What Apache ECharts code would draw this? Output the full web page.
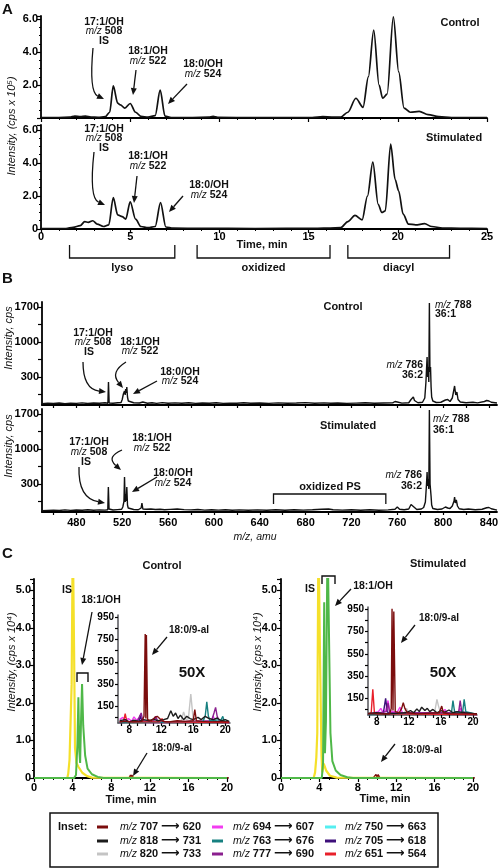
<!DOCTYPE html>
<html><head><meta charset="utf-8">
<script src="https://cdn.jsdelivr.net/npm/echarts@6/dist/echarts.min.js"></script>
<style>html,body{margin:0;padding:0;background:#fff}#c{width:500px;height:868px}</style>
</head><body><div id="c"></div>
<script>
// ================= DATA =================
// Panel A: LC chromatograms, time (min) vs intensity (cps x 10^5)
const aControl = [[0,0.03],[1.0,0.03],[1.6,0.05],[1.9,0.12],[2.2,0.08],[2.5,0.12],[2.8,0.06],[3.2,0.04],[3.6,0.08],[3.85,0.35],[4.05,1.95],[4.3,0.9],[4.45,0.8],[4.7,0.6],[5.0,0.88],[5.3,0.35],[5.6,0.1],[6.0,0.05],[6.4,0.15],[6.68,1.7],[6.95,0.12],[7.3,0.03],[8.5,0.03],[9.4,0.05],[9.65,0.1],[9.9,0.04],[12,0.02],[15.2,0.03],[15.8,0.08],[16.3,0.06],[16.8,0.05],[17.2,0.35],[17.65,1.2],[18.05,0.65],[18.35,2.5],[18.65,5.35],[18.95,2.0],[19.15,1.2],[19.4,1.45],[19.75,6.15],[20.05,2.8],[20.35,0.6],[20.7,0.35],[21.2,0.4],[21.7,0.2],[22.3,0.08],[23,0.03],[25,0.03]];
const aStim = [[0,0.03],[1.4,0.03],[1.8,0.1],[2.2,0.2],[2.45,0.45],[2.65,0.4],[2.9,0.5],[3.15,0.3],[3.5,0.15],[3.8,0.25],[4.05,1.9],[4.3,0.85],[4.55,0.75],[4.75,0.6],[5.0,1.65],[5.3,0.6],[5.6,0.15],[6.0,0.08],[6.4,0.15],[6.7,1.6],[7.0,0.12],[7.4,0.05],[9,0.04],[12,0.03],[15.5,0.04],[16.2,0.06],[16.8,0.08],[17.2,0.45],[17.6,0.82],[18.0,0.55],[18.3,2.0],[18.6,4.05],[18.9,1.5],[19.1,1.0],[19.3,1.1],[19.6,5.15],[19.85,3.0],[20.05,2.3],[20.3,0.9],[20.6,0.3],[21.0,0.25],[21.5,0.32],[21.9,0.15],[22.5,0.06],[23.5,0.04],[25,0.03]];
const aXTicks = [0,5,10,15,20,25];
const aBrackets = [['lyso',1.6,7.5],['oxidized',8.75,16.2],['diacyl',17.2,22.9]];

// Panel B: mass spectra, m/z vs intensity (cps)
const bControl = [[450,-235],[455,-225],[460,-230],[465,-220],[470,-232],[475,-222],[480,-228],[485,-218],[490,-230],[495,-220],[500,-226],[505,-215],[507.5,-225],[508,200],[508.6,-220],[512,-225],[516,-215],[519,-210],[520,-150],[521,-40],[522,20],[522.6,-60],[523,60],[523.5,-20],[524,100],[524.6,-100],[525.3,-180],[526,-200],[530,-215],[535,-220],[538,-200],[542,-225],[546,-215],[550,-228],[555,-212],[560,-225],[566,-218],[572,-226],[578,-215],[584,-228],[590,-220],[596,-225],[602,-215],[608,-228],[614,-222],[620,-226],[626,-214],[632,-226],[640,-220],[648,-228],[656,-218],[664,-225],[672,-220],[680,-212],[688,-226],[696,-218],[702,-225],[708,-219],[716,-228],[724,-222],[732,-216],[740,-226],[748,-220],[756,-218],[758,-190],[760,-200],[764,-222],[770,-215],[772,-150],[774,-100],[775,-170],[778,-215],[782,-205],[784,-120],[785,200],[786,700],[786.5,300],[787,500],[787.5,200],[788,1780],[788.5,400],[789,500],[789.5,100],[790,-100],[791,-180],[794,-210],[798,-205],[802,-160],[804,-150],[806,-190],[808,-120],[810,120],[811,-60],[812,0],[813,-150],[815,-200],[820,-215],[826,-205],[830,-218],[836,-190],[838,-170],[840,-180],[842,-205],[847,-220]];
const bStim = [[450,-235],[455,-228],[460,-222],[465,-230],[470,-218],[475,-228],[480,-220],[485,-226],[490,-215],[495,-226],[500,-218],[505,-222],[507.4,-215],[507.9,240],[508.5,-200],[509,-215],[512,-220],[516,-212],[519.5,-205],[520.5,-160],[521.5,-50],[522,440],[522.6,-60],[523,100],[523.5,-40],[524,240],[524.6,-120],[525.2,-180],[526,-200],[530,-210],[534,-215],[536.5,-180],[537.2,-80],[538,-200],[541,-205],[545,-200],[549,-210],[553,-205],[557,-215],[562,-208],[568,-200],[574,-212],[580,-218],[586,-210],[592,-222],[598,-215],[604,-222],[610,-214],[616,-225],[622,-218],[630,-226],[638,-218],[646,-224],[654,-216],[662,-225],[670,-214],[678,-222],[686,-216],[694,-205],[700,-200],[704,-215],[712,-222],[720,-214],[728,-224],[736,-216],[744,-224],[752,-218],[758,-205],[760,-160],[762,-205],[766,-215],[770,-200],[772,-110],[773,-80],[774,-150],[777,-210],[781,-200],[783,-170],[784.5,-60],[785.5,300],[786,540],[786.5,260],[787,400],[787.5,200],[788,1780],[788.6,300],[789,300],[789.5,50],[790,-120],[791,-190],[795,-210],[799,-200],[802,-160],[803,-150],[804,-180],[806,-190],[808,-140],[809.5,-40],[810,40],[810.6,-80],[811.5,-20],[812.5,-140],[814,-195],[818,-210],[822,-200],[828,-215],[834,-205],[838,-175],[840,-170],[842,-195],[847,-222]];
const bXLabels = [480,520,560,600,640,680,720,760,800,840];
const bXTicks = [460,480,500,520,540,560,580,600,620,640,660,680,700,720,740,760,780,800,820,840];
const bYLabels = [300,1000,1700];
const bYTicks = [-50,300,650,1000,1350,1700];
const bOxPS = [652,750];

// Panel C: MRM chromatograms (cps x 10^4)
const cCtlYellow = [[0,0],[3.45,0],[3.55,0.12],[3.68,0.48],[3.78,0.45],[3.9,2.5],[4.02,6.5],[4.15,3.5],[4.25,0.8],[4.4,0.4],[4.6,0.3],[5.0,0.14],[5.5,0.05],[6.0,0.01],[20,0]];
const cCtlGreen = [[0,0],[4.15,0],[4.35,0.08],[4.5,0.9],[4.6,2.15],[4.7,0.7],[4.78,0.4],[4.88,1.6],[4.98,2.5],[5.1,1.4],[5.3,0.6],[5.55,0.25],[6.0,0.1],[6.6,0.03],[7.2,0],[20,0]];
const cStimYellow = [[0,0],[3.4,0],[3.55,0.15],[3.68,0.55],[3.78,1.2],[3.9,6.5],[4.05,3.5],[4.15,1.75],[4.22,0.6],[4.3,0.15],[4.45,0.38],[4.7,0.2],[5.1,0.06],[5.8,0.01],[20,0]];
const cStimGreen = [[0,0],[4.25,0],[4.38,0.4],[4.5,4.68],[4.58,0.66],[4.68,1.5],[4.85,6.5],[5.0,3.8],[5.15,1.2],[5.35,0.45],[5.7,0.2],[6.2,0.08],[6.9,0.02],[7.5,0],[20,0]];
const cXTicks = [0,4,8,12,16,20];
const cInsetYLabels = [150,350,550,750,950];
const cInsetYTicks = [50,150,250,350,450,550,650,750,850,950];
const cInsetXLabels = [8,12,16,20];
const cInsetXTicks = [7,8,9,10,11,12,13,14,15,16,17,18,19,20];

// Inset transitions (legend order, row-major)
const transitions = [['707','620'],['694','607'],['750','663'],['818','731'],['763','676'],['705','618'],['820','733'],['777','690'],['651','564']];
// Inset traces (cps), same order as transitions
const insetControl = [
  [[6.8,10],[7.5,15],[8.5,10],[9.6,15],[9.85,60],[10.0,800],[10.08,40],[10.15,790],[10.3,30],[10.8,20],[11.2,50],[11.5,60],[11.8,40],[12.2,15],[13,10],[14,20],[15,15],[16.0,20],[16.2,120],[16.4,20],[17,15],[18,10],[19,12],[20.5,10]],
  [[6.8,30],[7.2,50],[7.5,20],[7.9,40],[8.3,15],[8.6,55],[8.9,25],[9.2,45],[9.5,10],[10,5],[12,5],[18.2,10],[18.5,60],[18.8,10],[20.5,5]],
  [[6.8,8],[8,12],[10,6],[12,10],[14,12],[16,8],[18,15],[18.5,30],[19,10],[19.6,25],[20.5,8]],
  [[6.8,20],[7.5,30],[8,10],[8.6,25],[9.2,15],[9.8,30],[10.5,20],[11,35],[11.6,20],[12.3,30],[12.8,40],[13.2,110],[13.5,60],[13.8,90],[14.1,40],[14.4,70],[14.8,30],[15.2,60],[15.6,40],[16.0,30],[16.6,50],[17.0,30],[17.5,60],[18.0,40],[18.5,30],[19.0,45],[19.5,20],[20.0,30],[20.5,15]],
  [[6.8,5],[17.2,10],[17.5,60],[17.7,190],[17.9,60],[18.1,20],[19.5,30],[19.7,60],[19.9,10],[20.5,5]],
  [[6.8,5],[9.2,10],[9.4,70],[9.6,10],[20.5,5]],
  [[6.8,5],[12,5],[14.5,20],[14.8,100],[15.1,30],[15.4,40],[15.7,260],[16.0,30],[16.5,10],[20.5,5]],
  [[6.8,5],[9.0,10],[9.3,60],[9.5,90],[9.7,20],[11,10],[11.3,60],[11.6,10],[13,10],[18.3,20],[18.6,90],[18.8,140],[19.0,60],[19.3,10],[20.5,5]],
  [[6.8,10],[7.3,15],[7.5,85],[7.7,15],[8,10],[11.8,10],[12.1,40],[12.4,10],[20.5,5]]
];
const insetStim = [
  [[6.9,10],[9.6,10],[9.8,60],[9.9,955],[10.02,40],[10.12,930],[10.3,30],[10.8,20],[11.1,60],[11.3,110],[11.5,60],[11.8,20],[13,10],[15.8,20],[16.1,80],[16.3,20],[17,10],[20.5,10]],
  [[6.9,10],[8.2,30],[8.5,60],[8.8,20],[9.1,40],[9.4,130],[9.6,40],[10.5,20],[10.9,70],[11.2,20],[12,10],[16,10],[16.5,50],[16.8,10],[18.2,30],[18.4,60],[18.6,20],[20.5,5]],
  [[6.9,5],[10,8],[12,10],[14,12],[16,10],[18,15],[20.5,10]],
  [[6.9,15],[8,20],[9,10],[10.5,15],[11.6,20],[12.2,40],[12.6,20],[13.0,55],[13.3,30],[13.6,70],[14.0,40],[14.3,60],[14.6,30],[15.0,50],[15.5,20],[16.0,40],[16.5,25],[17.0,45],[17.5,20],[18,30],[19,20],[20.5,10]],
  [[6.9,5],[17.3,10],[17.5,130],[17.7,30],[18.7,20],[18.9,140],[19.1,30],[20.5,5]],
  [[6.9,5],[8.8,10],[9.1,150],[9.3,30],[9.6,10],[20.5,5]],
  [[6.9,5],[11.4,10],[11.7,60],[12.0,10],[15.2,20],[15.5,140],[15.7,80],[16.0,10],[20.5,5]],
  [[6.9,5],[9.2,30],[9.4,110],[9.6,20],[18.2,20],[18.4,130],[18.6,30],[20.5,5]],
  [[6.9,10],[7.3,20],[7.5,230],[7.7,20],[8,10],[20.5,5]]
];

// ================= STYLE / LAYOUT =================
const transColors = ['#7b0d0d','#f23cf0','#55eef0','#1c1c1c','#178080','#3d0f7a','#c4c4c4','#8a1f8e','#e8202a'];
const drawOrder = [2,6,1,5,7,4,8,3,0];
const FF = '"Liberation Sans", Arial, Helvetica, sans-serif';
const INK = '#111';

const grids = [
  {left:41, top:16, width:446, height:102},
  {left:41, top:125, width:446, height:104},
  {left:42, top:302, width:455, height:103},
  {left:42, top:409, width:455, height:103},
  {left:34, top:579, width:193, height:199},
  {left:281, top:579, width:192, height:199},
  {left:118, top:615, width:112, height:108},
  {left:368, top:607, width:109, height:108}
].map(g => Object.assign({outerBoundsMode:'none', containLabel:false, show:false}, g));

function ax(gi, o) {
  const base = {
    type:'value', gridIndex:gi,
    axisLine:{show:true, onZero:false, lineStyle:{color:'#000', width:1.8}},
    axisTick:{show:true, length:4, lineStyle:{color:'#000', width:1.2}},
    minorTick:{show:false, length:2, lineStyle:{color:'#000', width:1}},
    splitLine:{show:false}, minorSplitLine:{show:false},
    axisLabel:{show:true, color:'#000', fontWeight:'bold', fontSize:11, fontFamily:FF, margin:3, showMaxLabel:false},
    axisPointer:{show:false}
  };
  for (const k in o) {
    if (base[k] && typeof base[k] === 'object' && typeof o[k] === 'object' && !Array.isArray(o[k])) base[k] = Object.assign({}, base[k], o[k]);
    else base[k] = o[k];
  }
  return base;
}
const fmt1 = v => v === 0 ? '0' : v.toFixed(1);
const fmtInt = v => String(v);

const xAxis = [
  ax(0,{min:0,max:25,interval:5,minorTick:{show:true,splitNumber:5},axisLabel:{show:false}}),
  ax(1,{min:0,max:25,interval:5,minorTick:{show:true,splitNumber:5},axisLabel:{margin:2,showMaxLabel:true}}),
  ax(2,{min:450,max:847,axisTick:{customValues:bXTicks,length:3},axisLabel:{show:false,customValues:bXLabels,formatter:fmtInt}}),
  ax(3,{min:450,max:847,axisTick:{customValues:bXTicks,length:3},axisLabel:{customValues:bXLabels,margin:5,formatter:fmtInt,showMaxLabel:true}}),
  ax(4,{min:0,max:20,interval:4,minorTick:{show:true,splitNumber:4},axisLabel:{margin:4,showMaxLabel:true}}),
  ax(5,{min:0,max:20,interval:4,minorTick:{show:true,splitNumber:4},axisLabel:{margin:4,showMaxLabel:true}}),
  ax(6,{min:6.6,max:20.6,axisLine:{lineStyle:{width:1.5}},axisTick:{customValues:cInsetXTicks,length:3},axisLabel:{customValues:cInsetXLabels,fontSize:10,margin:2,showMaxLabel:true}}),
  ax(7,{min:6.9,max:20.5,axisLine:{lineStyle:{width:1.5}},axisTick:{customValues:cInsetXTicks,length:3},axisLabel:{customValues:cInsetXLabels,fontSize:10,margin:2,showMaxLabel:true}})
];
const yAxis = [
  ax(0,{min:0,max:6.2,interval:2,minorTick:{show:true,splitNumber:4},axisLabel:{formatter:v => v === 0 ? '' : v.toFixed(1)}}),
  ax(1,{min:0,max:6.3,interval:2,minorTick:{show:true,splitNumber:4},axisLabel:{formatter:fmt1}}),
  ax(2,{min:-260,max:1800,axisTick:{customValues:bYTicks},axisLabel:{customValues:bYLabels,formatter:fmtInt,showMaxLabel:true}}),
  ax(3,{min:-260,max:1800,axisTick:{customValues:bYTicks},axisLabel:{customValues:bYLabels,formatter:fmtInt,showMaxLabel:true}}),
  ax(4,{min:0,max:5.3,interval:1,minorTick:{show:true,splitNumber:5},axisLabel:{formatter:fmt1,margin:3}}),
  ax(5,{min:0,max:5.3,interval:1,minorTick:{show:true,splitNumber:5},axisLabel:{formatter:fmt1,margin:4}}),
  ax(6,{min:0,max:970,axisLine:{lineStyle:{width:1.5}},axisTick:{customValues:cInsetYTicks,length:3},axisLabel:{customValues:cInsetYLabels,fontSize:10,margin:4,showMaxLabel:true}}),
  ax(7,{min:0,max:970,axisLine:{lineStyle:{width:1.5}},axisTick:{customValues:cInsetYTicks,length:3},axisLabel:{customValues:cInsetYLabels,fontSize:10,margin:4,showMaxLabel:true}})
];

function ls(gi, data, color, width, extra) {
  return Object.assign({type:'line', xAxisIndex:gi, yAxisIndex:gi, data:data, symbol:'none', showSymbol:false,
    lineStyle:{color:color, width:width}, itemStyle:{color:color}, animation:false, silent:true, clip:true}, extra || {});
}
const series = [
  ls(0, aControl, INK, 1.7, {smooth:0.3, smoothMonotone:'x'}),
  ls(1, aStim, INK, 1.7, {smooth:0.3, smoothMonotone:'x'}),
  ls(2, bControl, INK, 1.4),
  ls(3, bStim, INK, 1.4),
];
// main C: inset traces shown at main scale (cps -> cps x 10^4)
series.push(ls(4, insetControl[0].map(p => [p[0], p[1] / 1e4]), transColors[0], 1.4));
series.push(ls(5, insetStim[0].map(p => [p[0], p[1] / 1e4]), transColors[0], 1.4));
series.push(ls(4, cCtlYellow, '#f5e02a', 2.2));
series.push(ls(4, cCtlGreen, '#4fb848', 2));
series.push(ls(5, cStimYellow, '#f5e02a', 2.2));
series.push(ls(5, cStimGreen, '#4fb848', 2));
drawOrder.forEach(i => {
  series.push(ls(6, insetControl[i], transColors[i], 1.4, {name:'m/z ' + transitions[i][0] + '→' + transitions[i][1]}));
  series.push(ls(7, insetStim[i], transColors[i], 1.4, {name:'m/z ' + transitions[i][0] + '→' + transitions[i][1]}));
});

// ================= ANNOTATIONS =================
const RICH = {
  b:{font:'bold 10.5px ' + FF, fill:INK},
  i:{font:'italic 10px ' + FF, fill:INK},
  lb:{font:'bold 11px ' + FF, fill:INK},
  li:{font:'italic 10.5px ' + FF, fill:INK},
  ar:{font:'bold 13px "DejaVu Sans"', fill:INK}
};
const G = [];
function T(x, y, text, o) {
  o = o || {};
  G.push({type:'text', x:x, y:y, rotation:o.rot || 0, z:100, silent:true,
    style:{text:text, font:o.font || ('bold 10.5px ' + FF), fill:INK, align:o.align || 'center', verticalAlign:o.va || 'middle', rich:RICH}});
}
function L(pts, w) {
  G.push({type:'polyline', z:100, silent:true, shape:{points:pts}, style:{stroke:INK, lineWidth:w || 1.3, fill:'none'}});
}
function A(x1, y1, x2, y2, cx, cy) {
  let tx, ty;
  if (cx !== undefined) { tx = x2 - cx; ty = y2 - cy; } else { tx = x2 - x1; ty = y2 - y1; }
  const len = Math.hypot(tx, ty), ux = tx / len, uy = ty / len;
  const hl = 7, hw = 3;
  const bx = x2 - ux * hl, by = y2 - uy * hl;
  if (cx !== undefined) G.push({type:'bezierCurve', z:100, silent:true, shape:{x1:x1, y1:y1, x2:bx, y2:by, cpx1:cx, cpy1:cy}, style:{stroke:INK, lineWidth:1.3, fill:'none'}});
  else G.push({type:'line', z:100, silent:true, shape:{x1:x1, y1:y1, x2:bx, y2:by}, style:{stroke:INK, lineWidth:1.3}});
  G.push({type:'polygon', z:100, silent:true, shape:{points:[[x2, y2], [bx - uy * hw, by + ux * hw], [bx + uy * hw, by - ux * hw]]}, style:{fill:INK}});
}
const mz = n => '{i|m/z} {b|' + n + '}';

// panel letters
T(2, 2, 'A', {font:'bold 15px ' + FF, align:'left', va:'top'});
T(2, 271, 'B', {font:'bold 15px ' + FF, align:'left', va:'top'});
T(2, 546, 'C', {font:'bold 15px ' + FF, align:'left', va:'top'});

// ---- Panel A ----
T(12, 126, 'Intensity, (cps x 10\u2075)', {rot:Math.PI / 2, font:'italic 11px ' + FF});
T(460, 23, 'Control', {font:'bold 11px ' + FF});
T(104, 22, '17:1/OH'); T(104, 31.5, mz(508)); T(104, 41, 'IS');
T(148, 51, '18:1/OH'); T(148, 61, mz(522));
T(203, 64, '18:0/OH'); T(203, 74, mz(524));
A(93, 48, 104, 99, 89, 92);
A(136, 70, 133, 95);
A(187, 84, 168, 104);
T(454, 138, 'Stimulated', {font:'bold 11px ' + FF});
T(104, 129, '17:1/OH'); T(104, 138.5, mz(508)); T(104, 148, 'IS');
T(148, 156, '18:1/OH'); T(148, 166, mz(522));
T(209, 185, '18:0/OH'); T(209, 195, mz(524));
A(94, 152, 105, 205, 89, 198);
A(137, 176, 134, 203);
A(183, 196, 169, 212);
T(262, 245, 'Time, min', {font:'bold 11px ' + FF});

// ---- Panel B ----
T(9, 338, 'Intensity, cps', {rot:Math.PI / 2, font:'italic 11px ' + FF});
T(9, 446, 'Intensity, cps', {rot:Math.PI / 2, font:'italic 11px ' + FF});
T(343, 307, 'Control', {font:'bold 11px ' + FF});
T(93, 333, '17:1/OH'); T(93, 342.5, mz(508)); T(89, 352, 'IS');
T(140, 342, '18:1/OH'); T(140, 351.5, mz(522));
T(180, 372, '18:0/OH'); T(180, 381, mz(524));
T(435, 305, mz(788), {align:'left'}); T(435, 314.5, '36:1', {align:'left'});
T(423, 365, mz(786), {align:'right'}); T(423, 375, '36:2', {align:'right'});
A(83, 362, 106, 392, 83, 389);
A(126, 362, 123, 388, 110, 372);
A(157, 381, 133, 394);
T(348, 426, 'Stimulated', {font:'bold 11px ' + FF});
T(433, 419.5, mz(788), {align:'left'}); T(433, 430.5, '36:1', {align:'left'});
T(89, 442, '17:1/OH'); T(89, 452, mz(508)); T(86, 462, 'IS');
T(152, 438, '18:1/OH'); T(152, 448, mz(522));
T(173, 473, '18:0/OH'); T(173, 483, mz(524));
T(422, 475, mz(786), {align:'right'}); T(422, 486, '36:2', {align:'right'});
A(79, 467, 105, 503, 78, 498);
A(122, 450, 121, 470, 106, 457);
A(157, 477, 132, 492);
T(330, 487, 'oxidized PS', {font:'bold 11px ' + FF});
T(255, 537, '{li|m/z, amu}', {font:'bold italic 11px ' + FF});

// ---- Panel C ----
T(162, 566, 'Control', {font:'bold 11px ' + FF});
T(438, 564, 'Stimulated', {font:'bold 11px ' + FF});
T(12, 662, 'Intensity, (cps x 10\u2074)', {rot:Math.PI / 2, font:'italic 11px ' + FF});
T(258, 662, 'Intensity, (cps x 10\u2074)', {rot:Math.PI / 2, font:'italic 11px ' + FF});
T(67, 590, 'IS'); T(310, 589, 'IS');
T(101, 600, '18:1/OH'); A(92, 612, 82, 665);
T(373, 586, '18:1/OH'); A(351, 589, 335, 606);
L([[77, 682], [77, 673], [88, 673], [88, 682]], 1.4);
L([[322, 584], [322, 576], [335, 576], [335, 584]], 1.4);
T(172, 748, '18:0/9-al', {font:'bold 10px ' + FF}); A(147, 753, 133, 776);
T(422, 750, '18:0/9-al', {font:'bold 10px ' + FF}); A(395, 744, 381, 762);
T(189, 630, '18:0/9-al', {font:'bold 10px ' + FF}); A(167, 637, 152, 655);
T(439, 618, '18:0/9-al', {font:'bold 10px ' + FF}); A(415, 625, 401, 643);
T(192, 673, '50X', {font:'bold 15px ' + FF});
T(443, 673, '50X', {font:'bold 15px ' + FF});
T(131, 800, 'Time, min', {font:'bold 11px ' + FF});
T(385, 799, 'Time, min', {font:'bold 11px ' + FF});

// legend box
G.push({type:'rect', z:100, silent:true, shape:{x:50, y:813, width:388, height:54}, style:{stroke:INK, lineWidth:1.5, fill:'none'}});
T(58, 827, 'Inset:', {align:'left', font:'bold 11px ' + FF});
const lgSwX = [97, 212, 325], lgTxX = [120, 233, 345], lgY = [827, 841, 854];
transitions.forEach((tr, i) => {
  const r = Math.floor(i / 3), c = i % 3;
  G.push({type:'rect', z:100, silent:true, shape:{x:lgSwX[c], y:lgY[r] - 1.5, width:11, height:3}, style:{fill:transColors[i]}});
  T(lgTxX[c], lgY[r], '{li|m/z} {lb|' + tr[0] + '} {ar|\u27F6} {lb|' + tr[1] + '}', {align:'left'});
});

const chart = echarts.init(document.getElementById('c'), null, {renderer:'canvas'});
chart.setOption({
  animation:false,
  backgroundColor:'#fff',
  grid:grids, xAxis:xAxis, yAxis:yAxis, series:series,
  graphic:{elements:G}
});

// brackets for panel A (time ranges) and oxidized PS (m/z range), placed through the axes
const gA = [];
aBrackets.forEach(b => {
  const p1 = chart.convertToPixel({xAxisIndex:1, yAxisIndex:1}, [b[1], 0]);
  const p2 = chart.convertToPixel({xAxisIndex:1, yAxisIndex:1}, [b[2], 0]);
  gA.push({type:'polyline', z:100, silent:true, shape:{points:[[p1[0], 245], [p1[0], 258], [p2[0], 258], [p2[0], 245]]}, style:{stroke:INK, lineWidth:1.3, fill:'none'}});
  gA.push({type:'text', z:100, silent:true, x:(p1[0] + p2[0]) / 2, y:268, style:{text:b[0], font:'bold 11px ' + FF, fill:INK, align:'center', verticalAlign:'middle'}});
});
const o1 = chart.convertToPixel({xAxisIndex:3, yAxisIndex:3}, [bOxPS[0], 0]);
const o2 = chart.convertToPixel({xAxisIndex:3, yAxisIndex:3}, [bOxPS[1], 0]);
gA.push({type:'polyline', z:100, silent:true, shape:{points:[[o1[0], 504], [o1[0], 494], [o2[0], 494], [o2[0], 504]]}, style:{stroke:INK, lineWidth:1.3, fill:'none'}});
chart.setOption({graphic:{elements:G.concat(gA)}});
</script>
</body></html>
